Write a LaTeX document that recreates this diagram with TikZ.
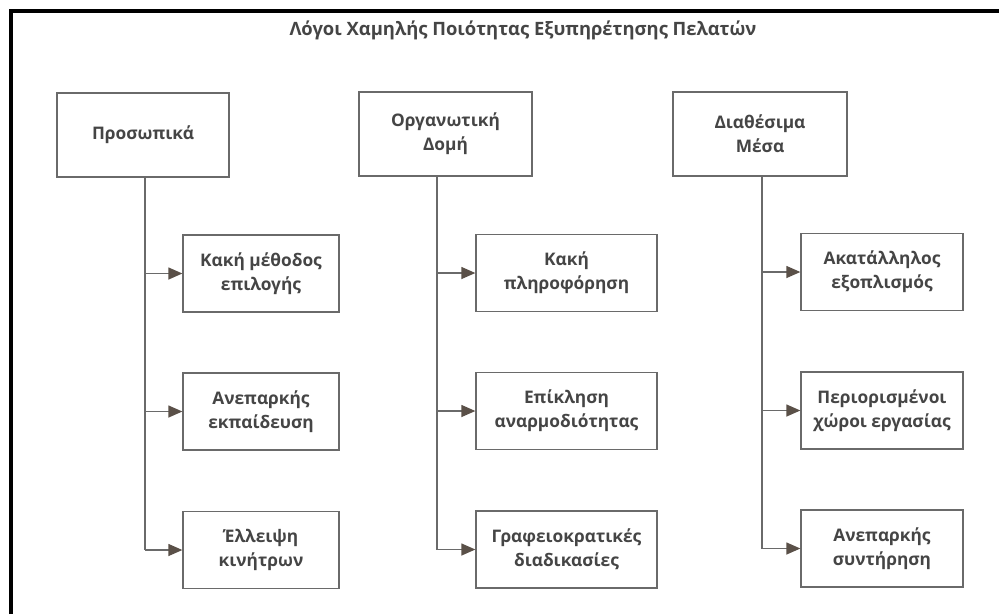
\documentclass[tikz,border=0pt]{standalone}
\usepackage{fontspec}
\setmainfont{Open Sans}
\usetikzlibrary{arrows.meta}
\definecolor{linegray}{HTML}{6A6A6A}
\definecolor{tipgray}{HTML}{5A5048}
\definecolor{txtgray}{HTML}{454545}
\tikzset{
  box/.style={draw=linegray, line width=1.3pt, align=center, text=txtgray,
    font=\bfseries\fontsize{17.3}{24}\selectfont, inner sep=0pt},
  conn/.style={draw=linegray, line width=1.3pt},
  arr/.style={conn, -{Triangle[length=14pt,width=12pt,fill=tipgray,color=tipgray]}},
}
\begin{document}
\begin{tikzpicture}[x=1pt,y=-1pt]
\useasboundingbox (0,0) rectangle (999,614);
\fill[white] (0,0) rectangle (999,614);
\draw[line width=4pt] (11,614) -- (11,11) -- (999,11);
\node[text=txtgray, font=\bfseries\fontsize{18.4}{22}\selectfont] (title) at (523,30) {Λόγοι Χαμηλής Ποιότητας Εξυπηρέτησης Πελατών};
% parents
\node[box, minimum width=172pt, minimum height=84pt] (p1) at (143,135) {Προσωπικά};
\node[box, minimum width=173pt, minimum height=84pt] (p2) at (445.5,134) {Οργανωτική\\Δομή};
\node[box, minimum width=174pt, minimum height=84pt] (p3) at (760,134) {Διαθέσιμα\\Μέσα};
% children col 1
\node[box, minimum width=156pt, minimum height=77pt] (c11) at (261,273.5) {Κακή μέθοδος\\επιλογής};
\node[box, minimum width=156pt, minimum height=77pt] (c12) at (261,411.5) {Ανεπαρκής\\εκπαίδευση};
\node[box, minimum width=156pt, minimum height=77pt] (c13) at (261,550) {Έλλειψη\\κινήτρων};
% children col 2
\node[box, minimum width=181pt, minimum height=77pt] (c21) at (566.5,273) {Κακή\\πληροφόρηση};
\node[box, minimum width=181pt, minimum height=77pt] (c22) at (566.5,411) {Επίκληση\\αναρμοδιότητας};
\node[box, minimum width=181pt, minimum height=77pt] (c23) at (566.5,549.5) {Γραφειοκρατικές\\διαδικασίες};
% children col 3
\node[box, minimum width=162pt, minimum height=77pt] (c31) at (882,272) {Ακατάλληλος\\εξοπλισμός};
\node[box, minimum width=162pt, minimum height=77pt] (c32) at (882,410.5) {Περιορισμένοι\\χώροι εργασίας};
\node[box, minimum width=162pt, minimum height=77pt] (c33) at (882,548.5) {Ανεπαρκής\\συντήρηση};
% spines
\coordinate (s1) at (145,0);
\coordinate (s2) at (437,0);
\coordinate (s3) at (762,0);
\draw[conn] (p1.south -| s1) -- (c13.west -| s1);
\draw[conn] (p2.south -| s2) -- (c23.west -| s2);
\draw[conn] (p3.south -| s3) -- (c33.west -| s3);
\foreach \c/\s in {c11/s1,c12/s1,c13/s1,c21/s2,c22/s2,c23/s2,c31/s3,c32/s3,c33/s3}
  \draw[arr] (\c.west -| \s) -- (\c.west);
\end{tikzpicture}
\end{document}
